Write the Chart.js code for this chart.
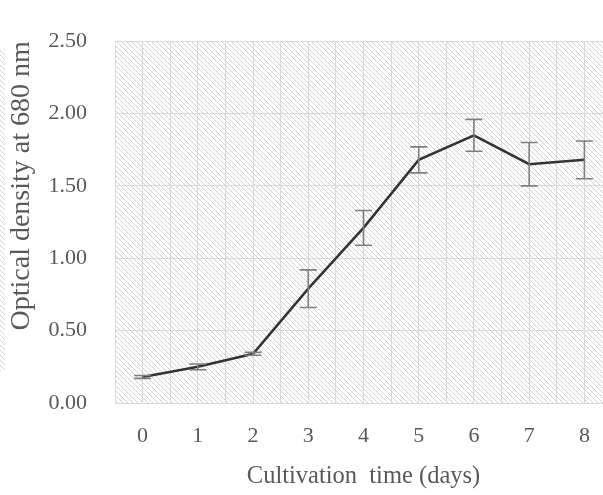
<!DOCTYPE html>
<html>
<head>
<meta charset="utf-8">
<script src="https://cdn.jsdelivr.net/npm/chart.js@4"></script>
<style>
  html, body { margin: 0; padding: 0; background: #fff; overflow: hidden; }
  #wrap { width: 612px; height: 495px; }
</style>
</head>
<body>
<div id="wrap"><canvas id="chart" width="612" height="495"></canvas></div>
<script>
// ---------- Data ----------
const days = [0, 1, 2, 3, 4, 5, 6, 7, 8];
const opticalDensity = [0.18, 0.25, 0.34, 0.79, 1.21, 1.68, 1.85, 1.65, 1.68];
const errorSize = [0.01, 0.02, 0.01, 0.13, 0.12, 0.09, 0.11, 0.15, 0.13];
const yTicks = [0, 0.5, 1, 1.5, 2, 2.5];

const TEXT = "#595959";
const GRID = "#d9d9d9";
const FONT = "'Liberation Serif', 'Times New Roman', serif";

// ---------- Plugins ----------

// diagonal hatch fill behind the plot area
const hatchBackground = {
  id: "hatchBackground",
  beforeDraw(chart) {
    const { ctx, chartArea } = chart;
    const tile = document.createElement("canvas");
    tile.width = 5;
    tile.height = 5;
    const t = tile.getContext("2d");
    t.strokeStyle = "#d2d2d2";
    t.lineWidth = 1;
    t.beginPath();
    t.moveTo(-1, -1);
    t.lineTo(6, 6);
    t.moveTo(-1, 4);
    t.lineTo(1, 6);
    t.moveTo(4, -1);
    t.lineTo(6, 1);
    t.stroke();
    const pattern = ctx.createPattern(tile, "repeat");
    ctx.save();
    ctx.fillStyle = pattern;
    ctx.fillRect(chartArea.left, chartArea.top,
      chartArea.right - chartArea.left, chartArea.bottom - chartArea.top);
    // faint strip of the neighbouring panel at the far left edge
    ctx.fillRect(0, chartArea.top + 8, 5, chartArea.bottom - chartArea.top - 40);
    ctx.restore();
  },
};

// vertical error bars with caps, positioned through the chart scales
const errorBars = {
  id: "errorBars",
  afterDatasetsDraw(chart) {
    const { ctx, scales } = chart;
    const x = scales.x, y = scales.y;
    ctx.save();
    ctx.strokeStyle = "#7f7f7f";
    ctx.lineWidth = 1.6;
    days.forEach((d, i) => {
      const px = x.getPixelForValue(d);
      const top = y.getPixelForValue(opticalDensity[i] + errorSize[i]);
      const bot = y.getPixelForValue(opticalDensity[i] - errorSize[i]);
      ctx.beginPath();
      ctx.moveTo(px, top);
      ctx.lineTo(px, bot);
      ctx.moveTo(px - 8.5, top);
      ctx.lineTo(px + 8.5, top);
      ctx.moveTo(px - 8.5, bot);
      ctx.lineTo(px + 8.5, bot);
      ctx.stroke();
    });
    ctx.restore();
  },
};

// ---------- Chart ----------

new Chart(document.getElementById("chart"), {
  type: "line",
  data: {
    datasets: [
      {
        data: days.map((d, i) => ({ x: d, y: opticalDensity[i] })),
        borderColor: "#333333",
        borderWidth: 2.5,
        pointRadius: 0,
        tension: 0,
        fill: false,
      },
    ],
  },
  options: {
    responsive: false,
    animation: false,
    layout: { padding: { top: 22, right: 0, left: 0, bottom: 0 } },
    plugins: { legend: { display: false }, tooltip: { enabled: false } },
    scales: {
      x: {
        type: "linear",
        min: -0.5,
        max: 8.5,
        afterFit: (s) => {
          s.height = 92;
          s.paddingLeft = 0;
          s.paddingRight = 0;
        },
        afterBuildTicks: (s) => {
          const ticks = [];
          for (let v = -0.5; v <= 8.5; v += 0.5) ticks.push({ value: v });
          s.ticks = ticks;
        },
        grid: { color: GRID, lineWidth: 1, drawTicks: false },
        border: { display: false },
        ticks: {
          autoSkip: false,
          maxRotation: 0,
          padding: 20,
          color: TEXT,
          font: { family: FONT, size: 22 },
          callback: (v) => (Number.isInteger(v) && days.includes(v) ? String(v) : ""),
        },
        title: {
          display: true,
          text: "Cultivation  time (days)",
          color: TEXT,
          font: { family: FONT, size: 24.5 },
          padding: { top: 0, bottom: 4 },
        },
      },
      y: {
        min: 0,
        max: 2.5,
        afterFit: (s) => { s.width = 115; },
        afterBuildTicks: (s) => { s.ticks = yTicks.map((v) => ({ value: v })); },
        grid: { color: GRID, lineWidth: 1, drawTicks: false },
        border: { display: false },
        ticks: {
          padding: 28,
          color: TEXT,
          font: { family: FONT, size: 22 },
          callback: (v) => v.toFixed(2),
        },
        title: {
          display: true,
          text: "Optical density at 680 nm",
          align: "end",
          color: TEXT,
          font: { family: FONT, size: 28 },
          padding: { top: 5, bottom: 0 },
        },
      },
    },
  },
  plugins: [hatchBackground, errorBars],
});
</script>
</body>
</html>
